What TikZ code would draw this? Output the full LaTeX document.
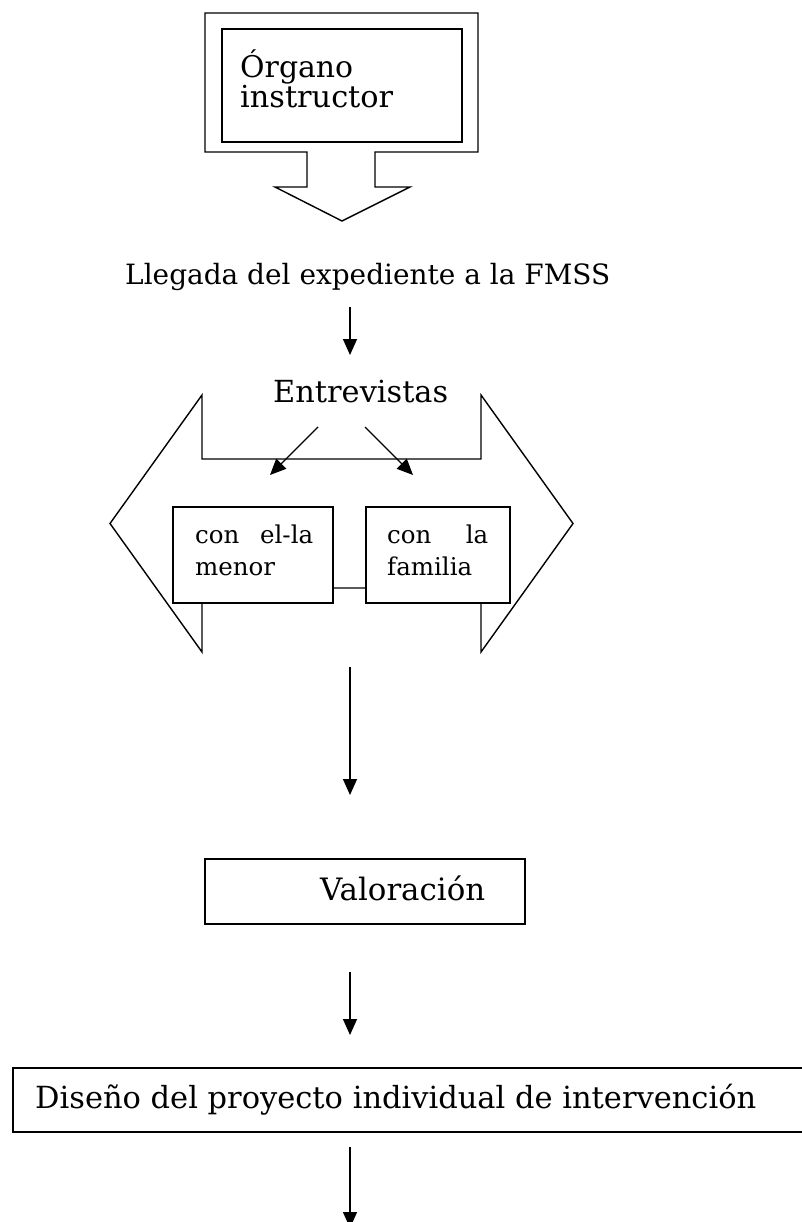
\documentclass[tikz,border=0pt]{standalone}
\usepackage{fontspec}
\setmainfont{DejaVu Serif}
\usetikzlibrary{arrows.meta}
\newcommand{\fitw}[2]{\resizebox{#1}{!}{#2}}
\tikzset{
  shp/.style={draw=black, line width=1.4pt, line join=miter},
  boxn/.style={draw=black, line width=1.4pt, fill=white, inner sep=0pt},
  big/.style={inner sep=0pt, anchor=base west, font=\fontsize{30}{33}\selectfont},
  small/.style={inner sep=0pt, anchor=base west, font=\fontsize{24.5}{27}\selectfont},
  arr/.style={draw=black, line width=1.4pt, -{Triangle[length=16pt,width=14pt]}}
}
\begin{document}
\begin{tikzpicture}[x=1pt,y=-1pt]
\useasboundingbox (0,0) rectangle (802,1222);
% top callout with down arrow
\draw[shp] (205,13) -- (478,13) -- (478,152) -- (375,152) -- (375,187) -- (410,187)
  -- (342,221) -- (275,187) -- (307,187) -- (307,152) -- (205,152) -- cycle;
\node[boxn, minimum width=240pt, minimum height=113pt] (organo) at (342,85.5) {};
\node[big] (t1) at (240,78) {\fitw{113pt}{Órgano}};
\node[big] (t2) at (240,108) {\fitw{153pt}{instructor}};
% Llegada
\node[big] (llegada) at (125,285) {\fitw{485pt}{Llegada del expediente a la FMSS}};
\coordinate (a1s) at (350,307);
\coordinate (a1e) at (350,355);
\draw[arr] (a1s) -- (a1e);
\node[big] (entrev) at (273,402) {\fitw{175pt}{Entrevistas}};
% double arrow
\draw[shp] (110,523.5) -- (202,395) -- (202,459) -- (481,459) -- (481,395) -- (573,523.5)
  -- (481,652) -- (481,588) -- (202,588) -- (202,652) -- cycle;
\coordinate (d1s) at (318,427);
\coordinate (d1e) at (270,475);
\coordinate (d2s) at (365,427);
\coordinate (d2e) at (413,475);
\draw[arr] (d1s) -- (d1e);
\draw[arr] (d2s) -- (d2e);
\node[boxn, minimum width=160pt, minimum height=96pt] (menor) at (253,555) {};
\node[boxn, minimum width=144pt, minimum height=96pt] (familia) at (438,555) {};
\node[small] (m1) at (195,543) {\hbox to 118pt{con\hfill el-la}};
\node[small] (m2) at (195,575) {menor};
\node[small] (f1) at (387,543) {\hbox to 101pt{con\hfill la}};
\node[small] (f2) at (387,575) {familia};
% long arrow
\coordinate (a2s) at (350,667);
\coordinate (a2e) at (350,795);
\draw[arr] (a2s) -- (a2e);
% Valoracion
\node[boxn, minimum width=320pt, minimum height=65pt] (valor) at (365,891.5) {};
\node[big] (vt) at (320,900) {\fitw{165pt}{Valoración}};
\coordinate (a3s) at (350,972);
\coordinate (a3e) at (350,1035);
\draw[arr] (a3s) -- (a3e);
% Diseno
\node[boxn, minimum width=796pt, minimum height=64pt] (diseno) at (411,1100) {};
\node[big] (dt) at (35,1108) {\fitw{721pt}{Diseño del proyecto individual de intervención}};
\coordinate (a4s) at (350,1147);
\coordinate (a4e) at (350,1228);
\draw[arr] (a4s) -- (a4e);
\end{tikzpicture}
\end{document}
